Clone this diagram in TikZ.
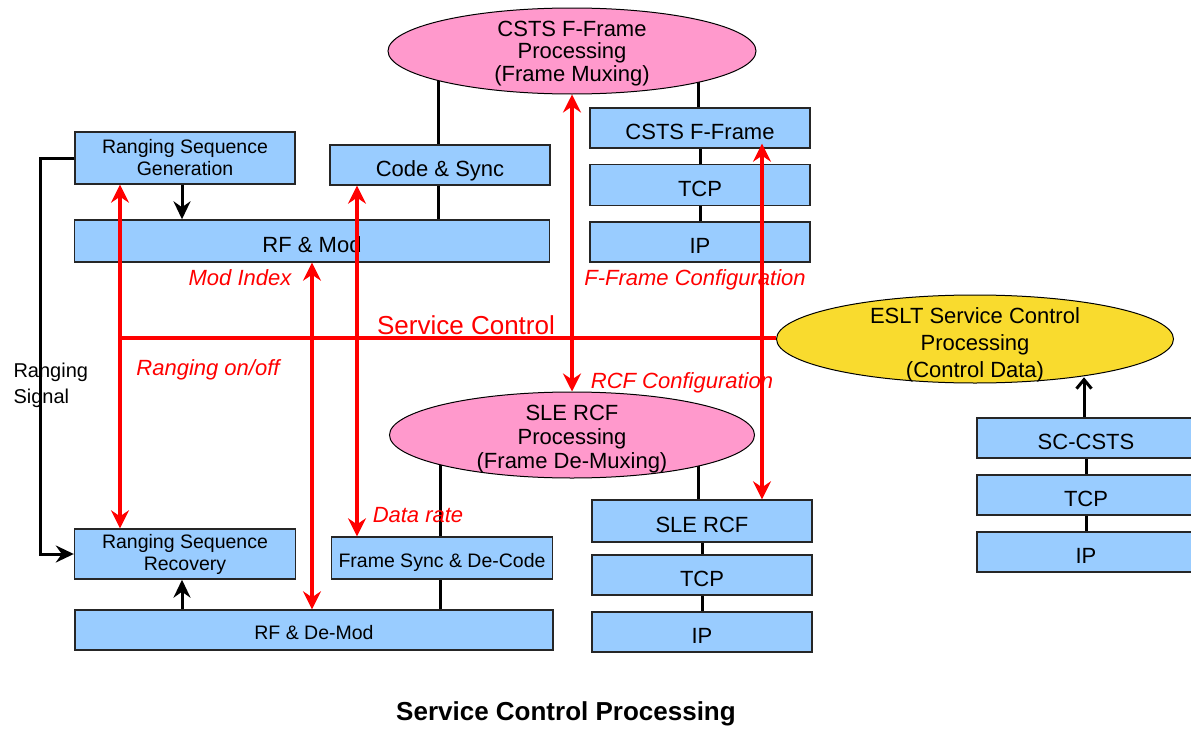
\documentclass[tikz,border=0pt]{standalone}
\usepackage{fontspec}
\setmainfont{Liberation Sans}
\usetikzlibrary{shapes,arrows.meta,positioning,calc,backgrounds}

\definecolor{boxblue}{HTML}{99CCFF}
\definecolor{ovalpink}{HTML}{FF99CC}
\definecolor{ovalyellow}{HTML}{F9DB2E}

\begin{document}
\begin{tikzpicture}[
    x=1pt, y=-1pt,
    panel/.style={rectangle, draw=black!85, line width=1.4pt, fill=boxblue, minimum width=220pt, minimum height=40pt, inner sep=0pt, align=center},
    box/.style={panel, font=\fontsize{22}{22}\selectfont, text height=22pt, text depth=0pt},
    smallbox/.style={panel, font=\fontsize{19.5}{22}\selectfont, text height=18pt, text depth=0pt},
    seqbox/.style={panel, font=\fontsize{19.5}{22}\selectfont},
    oval/.style={ellipse, draw=black, line width=1pt, fill=ovalpink, inner xsep=0pt, inner ysep=-14pt, text depth=-2pt, align=center, font=\fontsize{22}{22.5}\selectfont},
    link/.style={black, line width=3pt},
    arrow/.style={-{Stealth[length=18pt, width=17pt, inset=6pt]}, black, line width=3pt},
    ctrl/.style={{Stealth[length=18pt, width=18pt, inset=6pt]}-{Stealth[length=18pt, width=18pt, inset=6pt]}, red, line width=3.3pt},
    ctrltext/.style={font=\fontsize{22}{22}\selectfont\itshape, text=red}
]
\useasboundingbox (0,0) rectangle (1191,728);

% Frame muxing side (top)
\node[oval, minimum width=368pt, minimum height=86pt] (csts_oval) at (572,51) {CSTS F-Frame\\Processing\\(Frame Muxing)};
\node[seqbox, minimum height=52pt] (rsg) at (185,158) {Ranging Sequence\\Generation};
\node[box] (codesync) at (440,165) {Code \& Sync};
\node[box, minimum width=475pt, minimum height=42pt] (rfmod) at (312,241) {RF \& Mod};
\node[box] (cff) at (700,128) {CSTS F-Frame};
\node[box, minimum height=41pt] (tcp_up) at (700,185) {TCP};
\node[box] (ip_up) at (700,242) {IP};

% Service control (right)
\node[oval, fill=ovalyellow, minimum width=397pt, minimum height=88pt, font=\fontsize{22}{27}\selectfont] (eslt) at (975,339) {\rule{0pt}{22pt}ESLT Service Control\\Processing\\(Control Data)};
\node[box, minimum width=218pt] (sccsts) at (1086,438) {SC-CSTS};
\node[box, minimum width=218pt] (tcp_sc) at (1086,495) {TCP};
\node[box, minimum width=218pt] (ip_sc) at (1086,552) {IP};

% Frame de-muxing side (bottom)
\node[oval, minimum width=365pt, minimum height=86pt, font=\fontsize{22}{24}\selectfont] (sle_oval) at (572,435) {\rule{0pt}{19pt}SLE RCF\\Processing\\(Frame De-Muxing)};
\node[box, minimum height=42pt] (slercf) at (702,521) {SLE RCF};
\node[box] (tcp_low) at (702,575) {TCP};
\node[box] (ip_low) at (702,632) {IP};
\node[seqbox, minimum width=221pt, minimum height=50pt] (rsr) at (185,554) {Ranging Sequence\\Recovery};
\node[smallbox, minimum width=221pt, minimum height=42pt] (fsdc) at (442,558) {Frame Sync \& De-Code};
\node[smallbox, minimum width=478pt] (rfdemod) at (314,630) {RF \& De-Mod};

% stack links
\begin{scope}[on background layer]
\draw[link] ([xshift=-2pt]codesync.north) -- ([xshift=-2pt]codesync.north |- csts_oval.center);
\draw[link] ([xshift=-2pt]codesync.south) -- ([xshift=-2pt]codesync.south |- rfmod.north);
\draw[link] ([xshift=-2pt]cff.north) -- ([xshift=-2pt]cff.north |- csts_oval.center);
\draw[link] (cff.south) -- (tcp_up.north);
\draw[link] (tcp_up.south) -- (ip_up.north);
\draw[link] (sccsts.south) -- (tcp_sc.north);
\draw[link] (tcp_sc.south) -- (ip_sc.north);
\draw[link] ([xshift=-2pt]fsdc.north) -- ([xshift=-2pt]fsdc.north |- sle_oval.center);
\draw[link] ([xshift=-2pt]fsdc.south) -- ([xshift=-2pt]fsdc.south |- rfdemod.north);
\draw[link] ([xshift=-4pt]slercf.north) -- ([xshift=-4pt]slercf.north |- sle_oval.center);
\draw[link] (slercf.south) -- (tcp_low.north);
\draw[link] (tcp_low.south) -- (ip_low.north);
\end{scope}

% ranging signal path
\draw[arrow] ([xshift=-3pt]rsg.south) -- ([xshift=-3pt]rsg.south |- rfmod.north);
\draw[arrow] ([xshift=-3pt]rsr.south |- rfdemod.north) -- ([xshift=-3pt]rsr.south);
\draw[arrow] (rsg.west) -- ++(-34,0) |- (rsr.west);
\draw[-{Straight Barb[length=9pt, width=15pt]}, black, line width=3pt] ([xshift=-2pt]sccsts.north) -- ++(0,-40);

% service control lines
\coordinate (sc_left) at (120,338);
\draw[red, line width=3.3pt] (sc_left) -- (sc_left -| eslt.west);
\draw[ctrl] ([xshift=-65pt]rsg.south) -- ([xshift=-65pt]rsr.north);
\draw[ctrl] (rfmod.south) -- (rfmod.south |- rfdemod.north);
\draw[ctrl] ([xshift=-83pt]codesync.south) -- ([xshift=-83pt]codesync.south |- fsdc.north);
\draw[ctrl] (csts_oval.south) -- (sle_oval.north);
\draw[ctrl] ([xshift=62pt,yshift=5pt]cff.south) -- ([xshift=60pt]slercf.north);

% labels
\node[ctrltext] (modidx) at (240,278) {Mod Index};
\node[ctrltext] (rangonoff) at (208,370) {Ranging on/off};
\node[ctrltext] (ffcfg) at (695,280) {F-Frame Configuration};
\node[ctrltext] (rcfcfg) at (682,383) {RCF Configuration};
\node[ctrltext] (datarate) at (418,515) {Data rate};
\node[font=\fontsize{26}{26}\selectfont, text=red] (sctext) at (466,325) {Service Control};
\node[font=\fontsize{20}{26}\selectfont, align=left, anchor=west] (rangsig) at (10,385) {Ranging\\Signal};
\node[font=\fontsize{26}{26}\selectfont\bfseries] (title) at (566,714) {Service Control Processing};

\end{tikzpicture}
\end{document}
